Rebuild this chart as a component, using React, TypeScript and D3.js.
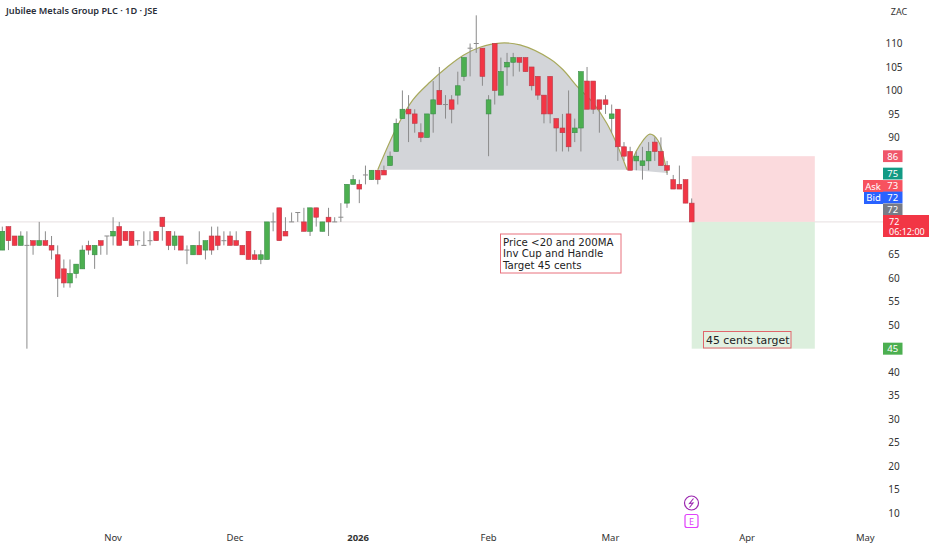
import React from "react";
import * as d3 from "d3";

const opens = [66,71,69,67,67,68,67,68,67,65,62,59,61,62,67,65,68,69,69,71,70,70,68,67,68,70,73,70,67,69,66,65,67,66,69,69,68,69,68,67,70,65,64,64,72,75,70,72,74,72,70,75,70,73,72,73,76,80,80,82,81,83,83,84,87,94,96,95,91,90,95,100,97,98,99,103,109,110,109,95,110,99,105,106,107,107,105,103,99,103,94,92,95,91,92,102,102,98,98,94,96,88,87,85,84,85,89,87,84,81,80,81,76];
const closes = [70,68,67,69,67,67,68,67,66,60,59,61,63,66,66,67,67,69,70,67,68,67,68,67,68,68,71,67,69,66,66,67,65,68,66,67,68,67,67,65,64,64,65,72,72,68,69,72,74,70,75,73,72,72,72,73,80,81,79,82,83,81,82,86,93,96,95,93,90,95,98,97,97,96,101,107,109,110,103,98,100,104,106,107,106,104,101,99,95,95,92,91,88,92,104,96,96,96,97,95,88,86,83,86,85,87,87,84,83,79,79,76,72];
const highs = [71,71,69,70,70,68,72,70,69,67,64,64,63,67,68,67,68,69,73,72,70,70,68,70,70,70,73,70,70,69,67,67,70,68,71,71,70,70,70,67,70,66,66,72,74,75,73,74,74,75,75,75,72,75,73,76,80,82,81,84,83,83,84,87,94,100,99,96,93,95,102,105,99,99,104,107,110,116,109,99,110,107,108,108,107,107,105,103,99,103,94,95,100,94,104,105,102,98,99,97,96,89,88,87,88,89,90,90,85,82,84,81,77];
const lows = [66,66,67,67,45,65,67,67,64,56,58,58,60,62,65,62,65,65,67,67,68,67,67,67,67,68,68,66,66,66,63,65,65,64,65,66,67,67,67,65,64,64,63,64,70,68,69,72,72,70,69,71,70,69,72,72,75,80,76,80,81,80,82,84,87,94,89,91,89,90,91,97,94,93,97,102,103,108,101,86,97,99,101,103,104,104,100,98,93,93,87,87,87,89,87,96,95,91,95,91,85,85,83,83,81,83,85,84,82,79,79,76,72];

const yTicks = [110,105,100,95,90,65,60,55,50,40,35,30,25,20,15,10];
const monthLabels = ["Nov","Dec","2026","Feb","Mar","Apr","May"];
const monthBars = [18,37.8,57.8,79,98.8,121,140.2];

const cupBars = [61.0,64.1,66.7,69.5,72.3,74.9,77.6,80.9,84.1,89,91.1,93.5,96,98.2,99.9,101.5];
const cupPrices = [83.1,92.2,98,101.8,105,107.5,109.2,110.1,109.7,106.7,104.4,100.7,97.3,93,88.4,83.1];
const handleBars = [102,102.5,103.6,105.2,106.5,108];
const handlePrices = [83.1,85.6,88.4,90.7,89.4,82.4];

const noteLines = ["Price <20 and 200MA","Inv Cup and Handle","Target 45 cents"];
const targetNote = "45 cents target";
const tags = [
  { text: "86", price: 86, fill: "#f0566a" },
  { text: "75", price: 82.3, fill: "#129a84" },
  { text: "73", price: 79.65, fill: "#f7525f" },
  { text: "72", price: 77.2, fill: "#2962ff" },
  { text: "72", price: 74.65, fill: "#787b86" },
];

const W = 932, H = 550;
const FONT = "'Noto Sans', 'Open Sans', sans-serif";
const x = d3.scaleLinear().domain([0, opens.length - 1]).range([2.3, 691.7]);
const y = d3.scaleLinear().domain([110, 10]).range([43.5, 513]);
const px = (bar: number) => x(bar);
const LAST = closes[closes.length - 1];
const ENTRY = 72, STOP = 86, TARGET = 45;
const boxEnd = 132;

const curve = d3.line<[number, number]>().x(d => px(d[0])).y(d => y(d[1])).curve(d3.curveCatmullRom);
const cupPts = cupBars.map((b, i) => [b, cupPrices[i]] as [number, number]);
const handlePts = handleBars.map((b, i) => [b, handlePrices[i]] as [number, number]);

export default function App() {
  return (
    <svg width={W} height={H} viewBox={`0 0 ${W} ${H}`} style={{ position: "absolute", left: 0, top: 0, display: "block", background: "#fff", fontFamily: FONT }}>
      <text x={6} y={14} fontSize={9.2} fontWeight={600} fill="#2a2e39">Jubilee Metals Group PLC · 1D · JSE</text>
      <text x={899} y={14.5} fontSize={9} fill="#333" textAnchor="middle">ZAC</text>

      <line x1={0} x2={883} y1={y(LAST)} y2={y(LAST)} stroke="#e6dfe0" strokeWidth={1} />

      <rect x={px(opens.length - 1)} width={px(boxEnd) - px(opens.length - 1)} y={y(STOP)} height={y(ENTRY) - y(STOP)} fill="#fbdadd" />
      <rect x={px(opens.length - 1)} width={px(boxEnd) - px(opens.length - 1)} y={y(ENTRY)} height={y(TARGET) - y(ENTRY)} fill="#dcefdd" />

      <path d={curve(cupPts)! + "Z"} fill="#d3d5d9" />
      <path d={curve(handlePts)! + "Z"} fill="#d3d5d9" />
      <path d={curve(cupPts)!} fill="none" stroke="#a8a95c" strokeWidth={1.2} />
      <path d={curve(handlePts)!} fill="none" stroke="#a8a95c" strokeWidth={1.2} />

      {opens.map((o, i) => {
        const c = closes[i];
        const flat = o === c;
        const up = c > o;
        const top = y(Math.max(o, c)), bot = y(Math.min(o, c));
        const cx = px(i);
        return (
          <g key={i}>
            <line x1={cx} x2={cx} y1={y(highs[i])} y2={y(lows[i])} stroke="#8b8b8b" strokeWidth={1} />
            {flat ? (
              <line x1={cx - 2.5} x2={cx + 2.5} y1={top} y2={top} stroke="#8b8b8b" strokeWidth={1} />
            ) : (
              <rect x={cx - 2.4} width={4.8} y={top} height={bot - top} fill={up ? "#4caf50" : "#f23645"} stroke={up ? "#3a8a48" : "#b83a48"} strokeWidth={0.6} />
            )}
          </g>
        );
      })}

      <g>
        <rect x={500.5} y={234} width={120.5} height={39} fill="#fff" stroke="#e8707c" strokeWidth={1} />
        {noteLines.map((t, i) => (
          <text key={t} x={503} y={246 + i * 11.3} fontSize={10.2} fontFamily="'DejaVu Sans'" fill="#222">{t}</text>
        ))}
        <rect x={703.5} y={331.5} width={87.5} height={16.5} fill="#e2f1e2" stroke="#e0666c" strokeWidth={1} />
        <text x={706} y={343.5} fontSize={10.9} fontFamily="'DejaVu Sans'" fill="#222">{targetNote}</text>
      </g>

      {yTicks.map(t => (
        <text key={t} x={894} y={y(t) + 3.6} fontSize={10} fill="#333" textAnchor="middle">{t}</text>
      ))}
      {monthLabels.map((m, i) => (
        <text key={m} x={px(monthBars[i])} y={541} fontSize={9.5} fontWeight={m === "2026" ? 700 : 400} fill="#333" textAnchor="middle">{m}</text>
      ))}

      {tags.map((t, i) => (
        <g key={i}>
          <rect x={883} width={19.5} y={y(t.price) - 5.9} height={11.8} fill={t.fill} />
          <text x={892.7} y={y(t.price) + 3.4} fontSize={9.5} fill="#fff" textAnchor="middle">{t.text}</text>
        </g>
      ))}
      <rect x={863} width={20} y={180} height={12} fill="#f7525f" />
      <text x={873} y={189.5} fontSize={9.5} fill="#fff" textAnchor="middle">Ask</text>
      <rect x={864} width={19} y={192} height={12} fill="#2962ff" />
      <text x={873.5} y={201.3} fontSize={9.5} fill="#fff" textAnchor="middle">Bid</text>
      <rect x={883} width={46} y={215} height={22} fill="#f23645" />
      <text x={889} y={225} fontSize={9} fill="#fff">{LAST}</text>
      <text x={889} y={235} fontSize={9} fill="#fff">06:12:00</text>
      <rect x={883} width={19.5} y={y(TARGET) - 6} height={12} fill="#4caf50" />
      <text x={892.7} y={y(TARGET) + 3.5} fontSize={9.5} fill="#fff" textAnchor="middle">{TARGET}</text>

      <circle cx={691.5} cy={503} r={7} fill="#fff" stroke="#9c27b0" strokeWidth={1.2} />
      <path d="M693.5 498.5 L689.5 503.5 L693 503 L689.5 507.5" fill="none" stroke="#9c27b0" strokeWidth={1.1} />
      <rect x={685} y={514.5} width={13} height={13} rx={2} fill="#fff" stroke="#e040fb" strokeWidth={1.2} />
      <text x={691.5} y={524.5} fontSize={9} fill="#e040fb" textAnchor="middle">E</text>
    </svg>
  );
}
